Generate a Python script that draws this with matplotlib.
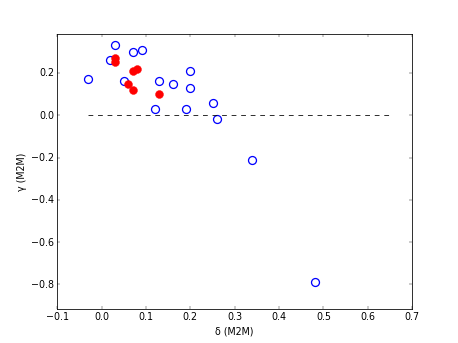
import matplotlib
matplotlib.use('Agg')
import matplotlib.pyplot as plt

plt.style.use('classic')

# open blue circles
delta_open = [-0.03, 0.03, 0.02, 0.07, 0.09, 0.05, 0.13, 0.16, 0.20, 0.20,
              0.12, 0.19, 0.25, 0.26, 0.34, 0.48]
gamma_open = [0.17, 0.33, 0.26, 0.30, 0.31, 0.16, 0.16, 0.15, 0.21, 0.13,
              0.03, 0.03, 0.06, -0.02, -0.21, -0.79]

# filled red circles
delta_fill = [0.03, 0.03, 0.07, 0.08, 0.06, 0.07, 0.13]
gamma_fill = [0.27, 0.25, 0.21, 0.22, 0.15, 0.12, 0.10]

fig = plt.figure(figsize=(8, 6), dpi=57.25, facecolor='white')
ax = fig.add_subplot(111)

ax.plot(delta_open, gamma_open, 'o', mfc='none', mec='b', mew=1.6, ms=10)
ax.plot(delta_fill, gamma_fill, 'o', color='r', mec='r', ms=10)
ax.plot([-0.03, 0.65], [0, 0], 'k--')

ax.set_xlim(-0.1, 0.7)
ax.set_ylim(-0.915, 0.385)
ax.set_yticks([-0.8, -0.6, -0.4, -0.2, 0.0, 0.2])
ax.set_xlabel('δ (M2M)')
ax.set_ylabel('γ (M2M)')

plt.savefig('out.png', dpi=57.25, facecolor='white')
